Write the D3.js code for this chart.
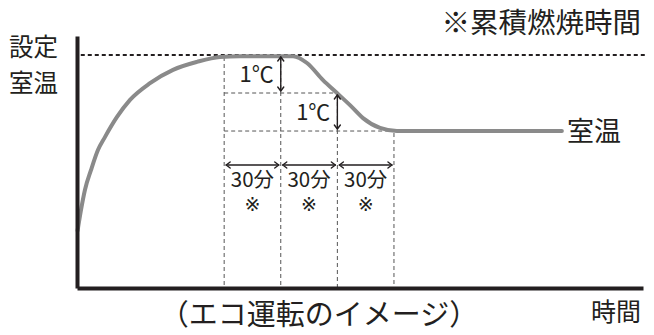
<!DOCTYPE html>
<html>
<head>
<meta charset="utf-8">
<script src="https://cdn.jsdelivr.net/npm/d3@7"></script>
<style>
  body { margin: 0; background: #fff; }
  text { font-family: "Noto Sans CJK JP", "Noto Sans", sans-serif; fill: #231f20; }
  text.mark { font-family: "DejaVu Sans", "Noto Sans CJK JP", sans-serif; }
</style>
</head>
<body>
<script>
// Eco mode room temperature image (minutes vs degrees relative to set temp)

// Curve of room temperature
const timeMin = [0.3, 2.1, 4.2, 7.4, 11.1, 14.8, 21.2, 28.1, 38.7, 50.9, 63.6, 75.8, 86.4, 114.5, 121.9, 130.4, 137.8, 144.7, 151.6, 160.6, 169.6, 181.8, 257];
const tempRel = [-4.62, -4.08, -3.55, -3.03, -2.5, -2.16, -1.63, -1.18, -0.74, -0.39, -0.18, -0.05, -0.03, -0.03, -0.21, -0.66, -1.0, -1.32, -1.66, -1.92, -2.0, -2.0, -2.0];

// 30-minute steps of the eco mode (start of each step), and level at each step
const stepStart = [78, 108, 138, 168];
const stepLevel = [0, 0, -1, -2];
const stepLabel = ["30分", "30分", "30分"];
const dropLabel = ["1℃", "1℃"];

let width = 654, height = 335;

let svg = d3.select("body").append("svg")
  .attr("width", width)
  .attr("height", height);

// Scales
let x = d3.scaleLinear().domain([0, 300]).range([77, 643]);
let y = d3.scaleLinear().domain([-6.13, 0.5]).range([288, 36]);

// Thin dashed guide lines
let guides = svg.append("g")
  .attr("stroke", "#555")
  .attr("stroke-width", 1)
  .attr("stroke-dasharray", "4,3")
  .attr("fill", "none");

stepStart.forEach((t, i) => {
  guides.append("line")
    .attr("x1", x(t)).attr("x2", x(t))
    .attr("y1", y(stepLevel[i]) + 2).attr("y2", y.range()[0]);
});
// horizontal guides at -1 and -2
guides.append("line")
  .attr("x1", x(stepStart[0])).attr("x2", x(stepStart[2]))
  .attr("y1", y(-1)).attr("y2", y(-1));
guides.append("line")
  .attr("x1", x(stepStart[0])).attr("x2", x(stepStart[3]))
  .attr("y1", y(-2)).attr("y2", y(-2));

// Set temperature dotted line
svg.append("line")
  .attr("x1", x(2)).attr("x2", x(301))
  .attr("y1", y(0)).attr("y2", y(0))
  .attr("stroke", "#231f20")
  .attr("stroke-width", 2)
  .attr("stroke-dasharray", "4,3");

// The curve
let pts = timeMin.map((t, i) => [t, tempRel[i]]);
let line = d3.line()
  .x(d => x(d[0]))
  .y(d => y(d[1]))
  .curve(d3.curveMonotoneX);

svg.append("path")
  .datum(pts)
  .attr("d", line)
  .attr("fill", "none")
  .attr("stroke", "#8a8a8a")
  .attr("stroke-width", 4)
  .attr("stroke-linecap", "round");

// Axes (no ticks, just the lines)
svg.append("g")
  .attr("transform", "translate(0," + y.range()[0] + ")")
  .call(d3.axisBottom(x).tickValues([]).tickSizeOuter(0))
  .select(".domain").attr("stroke", "#231f20").attr("stroke-width", 4);

svg.append("g")
  .attr("transform", "translate(" + x.range()[0] + ",0)")
  .call(d3.axisLeft(y).tickValues([]).tickSizeOuter(0))
  .select(".domain").attr("stroke", "#231f20").attr("stroke-width", 4);

// Arrow helper: double-headed line with open chevrons
let arrows = svg.append("g")
  .attr("stroke", "#231f20")
  .attr("stroke-width", 1.4)
  .attr("fill", "none")
  .attr("stroke-linecap", "round")
  .attr("stroke-linejoin", "round");

function vArrow(px, y1, y2) {
  arrows.append("line").attr("x1", px).attr("x2", px).attr("y1", y1).attr("y2", y2);
  arrows.append("path").attr("d", `M${px - 3},${y1 + 4}L${px},${y1}L${px + 3},${y1 + 4}`);
  arrows.append("path").attr("d", `M${px - 3},${y2 - 4}L${px},${y2}L${px + 3},${y2 - 4}`);
}
function hArrow(py, x1, x2) {
  arrows.append("line").attr("x1", x1).attr("x2", x2).attr("y1", py).attr("y2", py);
  arrows.append("path").attr("d", `M${x1 + 4},${py - 3}L${x1},${py}L${x1 + 4},${py + 3}`);
  arrows.append("path").attr("d", `M${x2 - 4},${py - 3}L${x2},${py}L${x2 - 4},${py + 3}`);
}

// 1℃ drops
dropLabel.forEach((lab, i) => {
  let px = x(stepStart[i + 1]);
  let top = y(-i), bot = y(-i - 1);
  vArrow(px, top + 2, bot - 2);
  svg.append("text")
    .attr("x", px - 7)
    .attr("y", (top + bot) / 2 + 8)
    .attr("text-anchor", "end")
    .attr("font-size", 22)
    .text(lab);
});

// 30分 steps, with ※ below
stepLabel.forEach((lab, i) => {
  let x1 = x(stepStart[i]), x2 = x(stepStart[i + 1]);
  hArrow(165, x1 + 2, x2 - 2);
  let cx = (x1 + x2) / 2;
  svg.append("text")
    .attr("x", cx).attr("y", 187)
    .attr("text-anchor", "middle")
    .attr("font-size", 20.5)
    .text(lab);
  svg.append("text")
    .attr("class", "mark")
    .attr("x", cx).attr("y", 211)
    .attr("text-anchor", "middle")
    .attr("font-size", 19)
    .text("※");
});

// Labels
svg.append("text").attr("x", 9).attr("y", 56).attr("font-size", 24.5).text("設定");
svg.append("text").attr("x", 9).attr("y", 92).attr("font-size", 24.5).text("室温");
svg.append("text").attr("x", 641).attr("y", 33).attr("text-anchor", "end").attr("font-size", 28.5).text("※累積燃焼時間");
svg.append("text").attr("x", 567).attr("y", 141).attr("font-size", 27).text("室温");
svg.append("text").attr("x", 641).attr("y", 321).attr("text-anchor", "end").attr("font-size", 25).text("時間");
svg.append("text").attr("x", 319).attr("y", 325).attr("text-anchor", "middle").attr("font-size", 29).text("（エコ運転のイメージ）");
</script>
</body>
</html>
